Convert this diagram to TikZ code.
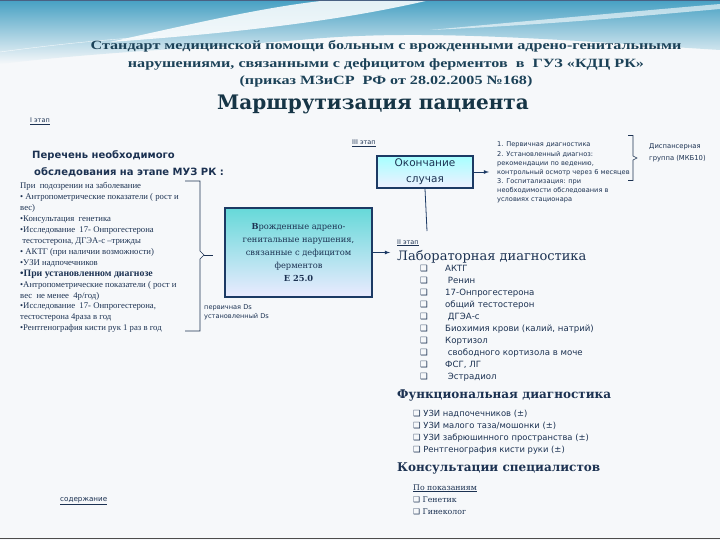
\documentclass[tikz,border=0pt]{standalone}
\usepackage{fontspec}
\setmainfont{Liberation Serif}
\setsansfont{DejaVu Sans}
\newfontfamily\headfont{DejaVu Serif}
\usetikzlibrary{arrows,positioning}
\definecolor{ink}{RGB}{28,50,82}
\definecolor{titlec}{RGB}{28,66,88}
\definecolor{navy}{RGB}{28,58,100}
\definecolor{bgc}{RGB}{246,248,250}
\newcommand{\widen}[1]{\scalebox{1.28}[1]{#1}}
\newcommand{\chk}{{\sffamily\bfseries ❑}}

\begin{document}
\begin{tikzpicture}[x=1pt,y=-1pt,
  every node/.style={text=ink,inner sep=0pt},
  stagelbl/.style={anchor=base west,font=\sffamily\fontsize{6.5}{8}\selectfont},
  leftline/.style={anchor=base west,font=\fontsize{8.7}{9}\selectfont},
  smallsans/.style={anchor=base west,font=\sffamily\fontsize{6.6}{8}\selectfont},
  labitem/.style={anchor=base west,font=\sffamily\fontsize{8.6}{9}\selectfont},
  funcitem/.style={anchor=base west,font=\sffamily\fontsize{8.4}{9}\selectfont},
  consitem/.style={anchor=base west,font=\headfont\fontsize{7.8}{9}\selectfont},
  heading/.style={anchor=base west,font=\headfont\fontsize{13}{15}\selectfont},
  diagbox/.style={draw=navy,line width=1.8pt,top color=cyan!50!teal!60,bottom color=blue!8,
    minimum width=147pt,minimum height=89pt,align=center,
    font=\headfont\fontsize{8.3}{13.2}\selectfont},
  endbox/.style={draw=navy,line width=1.8pt,top color=cyan!35,bottom color=blue!6,
    minimum width=96pt,minimum height=32pt,align=center,
    font=\sffamily\fontsize{10.5}{16}\selectfont}
]
\useasboundingbox (0,0) rectangle (720,540);
%background and top wave
\fill[bgc] (0,0) rectangle (720,540);
\shade[top color={rgb,255:red,70;green,160;blue,195},bottom color=bgc]
  (0,0) -- (720,0) -- (720,50) .. controls (560,40) and (420,28) .. (300,40)
  .. controls (200,48) and (100,52) .. (0,64) -- cycle;
\fill[white,opacity=0.85] (110,42) .. controls (200,22) and (270,6) .. (330,0)
  -- (430,0) .. controls (370,14) and (280,30) .. (110,42) -- cycle;
\fill[white,opacity=0.6] (430,30) .. controls (560,18) and (650,10) .. (720,4)
  -- (720,9) .. controls (640,16) and (560,24) .. (430,30) -- cycle;
\draw[white,opacity=0.8] (0,52) .. controls (60,44) and (100,40) .. (160,36);
\draw[navy!80,line width=1pt] (0,0.5) -- (720,0.5);
\draw[gray!60!black,line width=1.5pt] (0,538.5) -- (720,538.5);
%title
\node[align=center,text=titlec,font=\bfseries\fontsize{12.6}{17.5}\selectfont] (title) at (386,64)
  {\widen{Стандарт медицинской помощи больным с врожденными адрено-генитальными}\\
   \widen{нарушениями, связанными с дефицитом ферментов \ в \ ГУЗ «КДЦ РК»}\\
   \widen{(приказ МЗиСР \ РФ от 28.02.2005 №168)}};
\node[anchor=base,font=\headfont\bfseries\fontsize{20}{21}\selectfont,text=titlec!80!black] (route) at (373,110) {Маршрутизация пациента};
%stage I
\node[stagelbl] (stage1) at (30,123) {\underline{I этап}};
\node[anchor=base west,font=\sffamily\bfseries\fontsize{10}{12}\selectfont] (list1) at (32,159) {Перечень необходимого};
\node[anchor=base west,font=\sffamily\bfseries\fontsize{10}{12}\selectfont] (list2) at (34,176) {обследования на этапе МУЗ РК :};
\foreach \t [count=\i] in {При \ подозрении на заболевание,
  • Антропометрические показатели ( рост и,
  вес),
  •Консультация \ генетика,
  •Исследование \ 17- Онпрогестерона,
  \ тестостерона{,} ДГЭА-с –трижды,
  • АКТГ (при наличии возможности),
  •УЗИ надпочечников,
  {\fontsize{9.8}{10}\selectfont\textbf{•При установленном диагнозе}},
  •Антропометрические показатели ( рост и,
  вес \ не менее \ 4р/год),
  {•Исследование \ 17- Онпрогестерона,},
  тестостерона 4раза в год,
  •Рентгенография кисти рук 1 раз в год}
  \node[leftline] (l\i) at (20,189+10.9*\i-10.9) {\t};
%brace of stage I
\draw[ink,line width=0.6pt] (185,181) -- (200,181) -- (200,251) -- (204,255) -- (200,259) -- (200,331) -- (185,331);
\draw[ink,line width=0.6pt] (204,255) -- (213,255);
\node[smallsans] (ds1) at (204,309) {первичная Ds};
\node[smallsans] (ds2) at (204,318) {установленный Ds};
%main diagnosis box
\node[diagbox] (diag) at (298.5,252.5) {\textbf{В}рожденные адрено-\\генитальные нарушения,\\связанные с дефицитом\\ферментов\\\textbf{Е 25.0}};
%stage III
\node[stagelbl] (stage3) at (352,145) {\underline{III этап}};
\node[endbox] (ending) at (425,172) {Окончание\\случая};
\foreach \t [count=\i] in {1. Первичная диагностика,
  2. Установленный диагноз:,
  {рекомендации по ведению,},
  контрольный осмотр через 6 месяцев,
  3. Госпитализация: при,
  необходимости обследования в,
  условиях стационара}
  \node[smallsans] (e\i) at (497,147+9.1*\i-9.1) {\t};
\draw[ink,line width=0.6pt] (628,135.5) -- (633,135.5) -- (633,156) -- (637,158) -- (633,160) -- (633,180.5) -- (628,180.5);
\node[smallsans,font=\sffamily\fontsize{6.8}{8}\selectfont] (disp1) at (649,149) {Диспансерная};
\node[smallsans,font=\sffamily\fontsize{6.8}{8}\selectfont] (disp2) at (649,161) {группа (МКБ10)};
%stage II
\node[stagelbl] (stage2) at (397,244) {\underline{II этап}};
\node[heading] (lab) at (397,260) {Лабораторная диагностика};
\foreach \t [count=\i] in {АКТГ, \ Ренин, 17-Онпрогестерона, общий тестостерон, \ ДГЭА-с,
  {Биохимия крови (калий, натрий)}, Кортизол, \ свободного кортизола в моче, {ФСГ, ЛГ}, \ Эстрадиол}
  \node[labitem] (lab\i) at (420,271+12*\i-12) {\makebox[25pt][l]{\chk}\t};
\node[heading,font=\headfont\bfseries\fontsize{12}{15}\selectfont] (func) at (397,398) {Функциональная диагностика};
\foreach \t [count=\i] in {УЗИ надпочечников (±), УЗИ малого таза/мошонки (±),
  УЗИ забрюшинного пространства (±), Рентгенография кисти руки (±)}
  \node[funcitem] (func\i) at (413,416+12.3*\i-12.3) {\chk\ \t};
\node[heading,font=\headfont\bfseries\fontsize{12}{15}\selectfont] (cons) at (397,471) {Консультации специалистов};
\node[consitem] (cons0) at (413,490) {\underline{По показаниям}};
\node[consitem] (cons1) at (413,502) {\chk\ Генетик};
\node[consitem] (cons2) at (413,514) {\chk\ Гинеколог};
\node[smallsans,font=\sffamily\fontsize{7.2}{8}\selectfont] (content) at (60,501) {\underline{содержание}};
% connectors
\coordinate (labtop) at (427,231);
\draw[-latex,navy,line width=0.8pt] (diag.east) -- ([xshift=-7pt]diag.east -| lab.west);
\draw[navy,line width=0.8pt] (labtop) -- (ending.south);
\draw[-latex,navy,line width=0.8pt] (ending.east) -- ([xshift=-8pt]ending.east -| e1.west);

\end{tikzpicture}
\end{document}
